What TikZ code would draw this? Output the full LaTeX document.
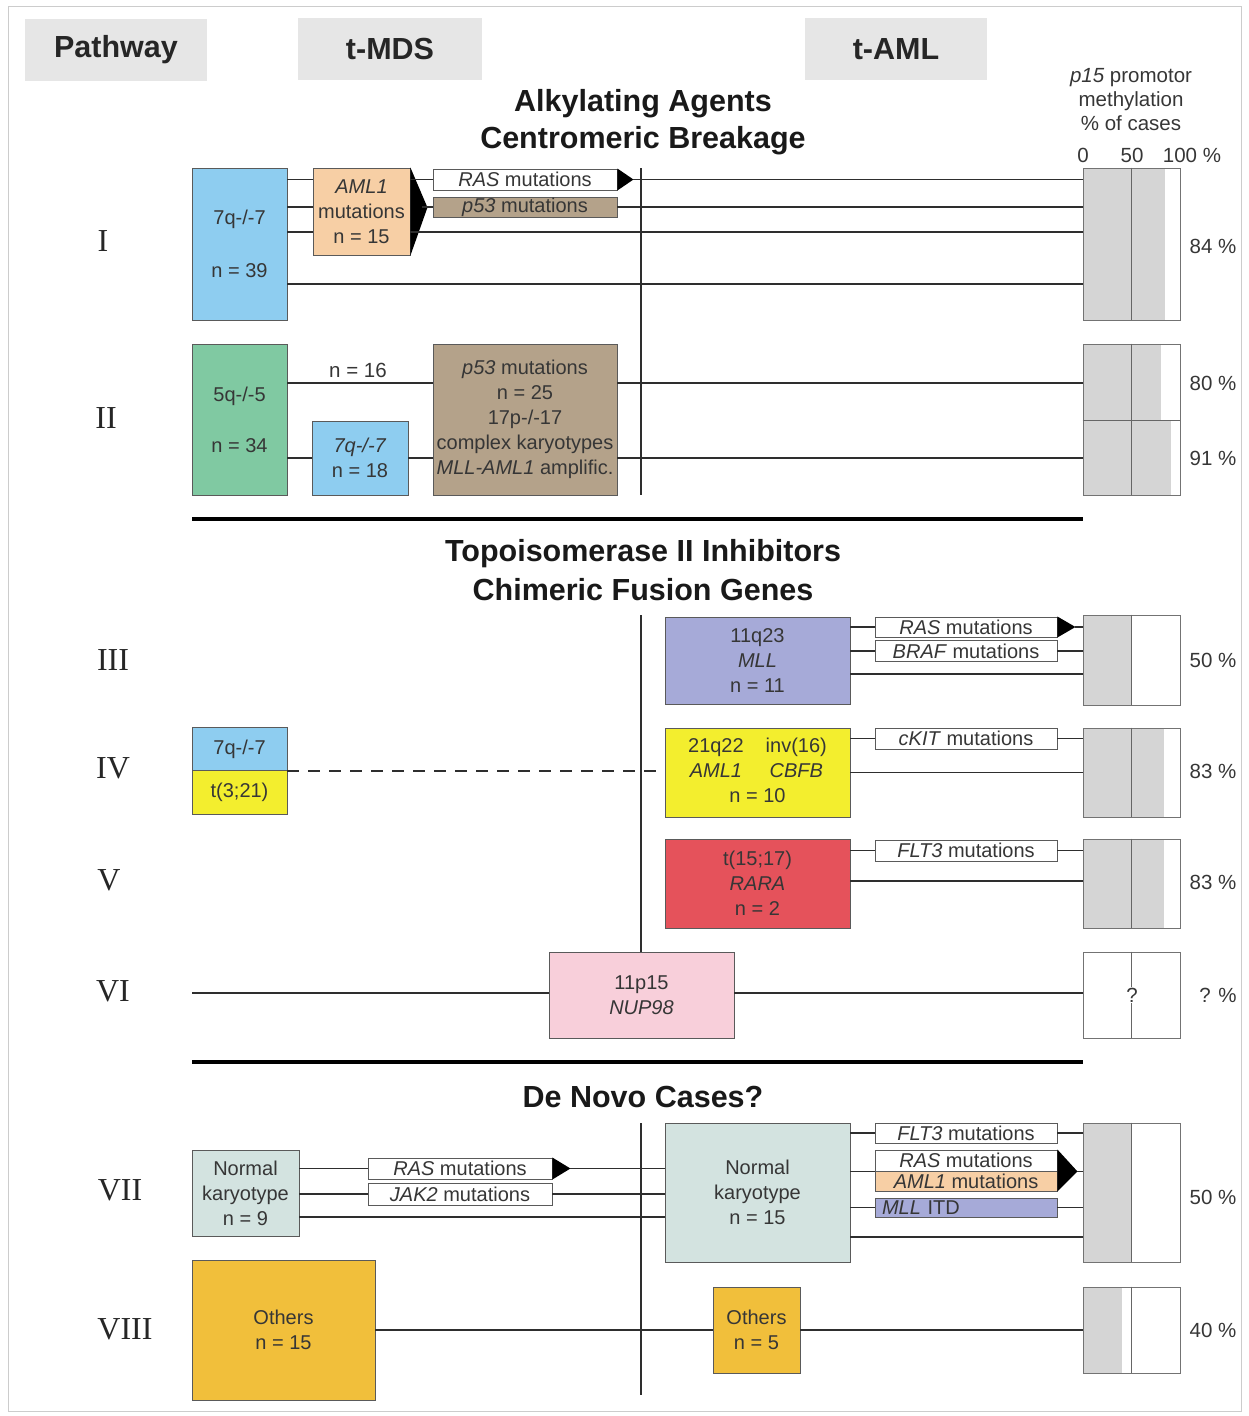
\documentclass[tikz,border=0pt]{standalone}
\usepackage{fontspec}
\setmainfont{Liberation Sans}
\newfontfamily\romfont{Liberation Serif}
\usetikzlibrary{calc}
\definecolor{txt}{HTML}{363636}
\definecolor{bdr}{HTML}{5A5A5A}
\definecolor{lnc}{HTML}{2E2E2E}
\definecolor{cblue}{HTML}{8ECDF0}
\definecolor{cpeach}{HTML}{F7CFA5}
\definecolor{cbrown}{HTML}{B4A28A}
\definecolor{cgreen}{HTML}{80C9A2}
\definecolor{clav}{HTML}{A6AAD8}
\definecolor{cyel}{HTML}{F3EE2E}
\definecolor{cred}{HTML}{E5525B}
\definecolor{cpink}{HTML}{F8CFDA}
\definecolor{cgrayteal}{HTML}{D3E3E0}
\definecolor{cgold}{HTML}{F1BF3B}
\definecolor{cbar}{HTML}{D5D5D5}
\definecolor{chdr}{HTML}{E6E6E6}
\begin{document}
\begin{tikzpicture}[x=1pt,y=-1pt,
  bx/.style={draw=bdr, line width=0.9pt, inner sep=0pt, align=center, text=txt, font=\fontsize{20}{25}\selectfont},
  mut/.style={bx, fill=white, minimum width=182pt},
  hdr/.style={fill=chdr, inner sep=0pt, minimum width=182pt, minimum height=62pt, font=\fontsize{30.5}{34}\selectfont\bfseries, text=black!85},
  ttl/.style={font=\fontsize{30.5}{34}\selectfont\bfseries, text=black!90},
  rom/.style={font=\romfont\fontsize{32}{36}\selectfont, text=black!85},
  pct/.style={font=\fontsize{20.5}{24}\selectfont, text=txt, align=center},
  bar/.style={draw=black!55, line width=0.9pt, minimum width=97pt, inner sep=0pt},
  midl/.style={draw=black!60, line width=0.9pt},
  ln/.style={draw=lnc, line width=1.8pt},
  sepl/.style={draw=black, line width=3.5pt},
  tipc/.style={fill=black}]
\useasboundingbox (0,0) rectangle (1248,1416);
\draw[black!20, line width=1pt] (8,6) rectangle (1241,1411);

% headers
\node[hdr] (hp) at (116,50) {Pathway};
\node[hdr, minimum width=184pt] (hm) at (390,49) {t-MDS};
\node[hdr] (ha) at (896,49) {t-AML};
\node[ttl] (t1) at (643,104) {Alkylating Agents};
\node[ttl] (t2) at (643,141) {Centromeric Breakage};
\node[ttl] (t3) at (643,554) {Topoisomerase II Inhibitors};
\node[ttl] (t4) at (643,590) {Chimeric Fusion Genes};
\node[ttl] (t5) at (643,1097) {De Novo Cases?};
\node[pct] (p15) at (1131,100) {\textit{p15} promotor\\methylation\\\% of cases};
\node[pct] (s0) at (1083,155) {0};
\node[pct] (s50) at (1132,155) {50};
\node[pct] (s100) at (1192,155) {100 \%};

% roman numerals
\node[rom] (rI) at (103,241) {I};
\node[rom] (rII) at (106,418) {II};
\node[rom] (rIII) at (113,660) {III};
\node[rom] (rIV) at (113,768) {IV};
\node[rom] (rV) at (109,880) {V};
\node[rom] (rVI) at (113,991) {VI};
\node[rom] (rVII) at (120,1190) {VII};
\node[rom] (rVIII) at (125,1329) {VIII};

% methylation bars
\fill[cbar] (1083,168) rectangle (1164.5,320);
\node[bar, minimum height=152pt] (barI) at (1131.5,244) {};
\draw[midl] (barI.north) -- (barI.south);
\fill[cbar] (1083,344) rectangle (1160.6,420);
\fill[cbar] (1083,420) rectangle (1171.3,495);
\node[bar, minimum height=151pt] (barII) at (1131.5,419.5) {};
\draw[midl] (barII.north) -- (barII.south);
\draw[midl] (barII.west |- 0,420) -- (barII.east |- 0,420);
\fill[cbar] (1083,615) rectangle (1131.5,705);
\node[bar, minimum height=90pt] (barIII) at (1131.5,660) {};
\draw[midl] (barIII.north) -- (barIII.south);
\fill[cbar] (1083,728) rectangle (1163.5,817);
\node[bar, minimum height=89pt] (barIV) at (1131.5,772.5) {};
\draw[midl] (barIV.north) -- (barIV.south);
\fill[cbar] (1083,839) rectangle (1163.5,928);
\node[bar, minimum height=89pt] (barV) at (1131.5,883.5) {};
\draw[midl] (barV.north) -- (barV.south);
\node[bar, minimum height=86pt] (barVI) at (1131.5,995) {};
\draw[midl] (barVI.north) -- (barVI.south);
\node[pct, fill=white, inner sep=1pt] (qVI) at (1132,995) {?};
\fill[cbar] (1083,1123) rectangle (1131.5,1262);
\node[bar, minimum height=139pt] (barVII) at (1131.5,1192.5) {};
\draw[midl] (barVII.north) -- (barVII.south);
\fill[cbar] (1083,1287) rectangle (1121.8,1373);
\node[bar, minimum height=86pt] (barVIII) at (1131.5,1330) {};
\draw[midl] (barVIII.north) -- (barVIII.south);

\node[pct] (pI) at (1213,246) {84 \%};
\node[pct] (pIIa) at (1213,383) {80 \%};
\node[pct] (pIIb) at (1213,458) {91 \%};
\node[pct] (pIII) at (1213,660) {50 \%};
\node[pct] (pIV) at (1213,771) {83 \%};
\node[pct] (pV) at (1213,882) {83 \%};
\node[pct] (pVI) at (1218,995) {? \%};
\node[pct] (pVII) at (1213,1197) {50 \%};
\node[pct] (pVIII) at (1213,1330) {40 \%};

% vertical centre lines and separators
\draw[ln] (641,168) -- (641,495);
\draw[sepl] (192,519) -- (1083,519);
\draw[sepl] (192,1062) -- (1083,1062);
\draw[ln] (641,1123) -- (641,1395);

% ---------- Pathway I
\node[bx, fill=cblue, minimum width=95pt, minimum height=152pt] (blueI) at (239.5,244) {7q-/-7\\[28pt]n = 39};
\node[bx, fill=cpeach, minimum width=97pt, minimum height=87pt] (aml1) at (361.5,211.5) {\textit{AML1}\\mutations\\n = 15};
\node[mut, minimum width=184pt, minimum height=21pt] (ras1) at (525,179.5) {\textit{RAS} mutations};
\node[bx, fill=cbrown, minimum width=184pt, minimum height=20pt] (p53a) at (525,207) {\textit{p53} mutations};
\fill[tipc] (aml1.north east) -- ($(aml1.east)+(17,-4)$) -- (aml1.south east) -- cycle;
\coordinate (tipI) at ($(ras1.east)+(16,0)$);
\fill[tipc] (ras1.north east) -- (tipI) -- (ras1.south east) -- cycle;
\coordinate (yI3) at (0,232);
\coordinate (yI4) at (0,284);
\draw[ln] (blueI.east |- ras1) -- (aml1.west |- ras1);
\draw[ln] (aml1.east |- ras1) -- (ras1.west);
\draw[ln] (tipI) -- (barI.west |- tipI);
\draw[ln] (blueI.east |- p53a) -- (aml1.west |- p53a);
\draw[ln] ($(aml1.east |- p53a)+(12,0)$) -- (p53a.west);
\draw[ln] (p53a.east) -- (barI.west |- p53a);
\draw[ln] (blueI.east |- yI3) -- (aml1.west |- yI3);
\draw[ln] (aml1.east |- yI3) -- (barI.west |- yI3);
\draw[ln] (blueI.east |- yI4) -- (barI.west |- yI4);

% ---------- Pathway II
\node[bx, fill=cgreen, minimum width=95pt, minimum height=151pt] (greenII) at (239.5,419.5) {5q-/-5\\[26pt]n = 34};
\node[bx, fill=cblue, minimum width=96pt, minimum height=74pt] (blueII) at (360,458) {\textit{7q-/-7}\\n = 18};
\node[bx, fill=cbrown, minimum width=184pt, minimum height=151pt] (brownII) at (525,419.5) {\textit{p53} mutations\\n = 25\\17p-/-17\\complex karyotypes\\\textit{MLL-AML1} amplific.};
\node[pct] (n16) at (358,370) {n = 16};
\coordinate (yII1) at (0,383);
\draw[ln] (greenII.east |- yII1) -- (brownII.west |- yII1);
\draw[ln] (brownII.east |- yII1) -- (barII.west |- yII1);
\draw[ln] (greenII.east |- blueII) -- (blueII.west);
\draw[ln] (blueII.east) -- (brownII.west |- blueII);
\draw[ln] (brownII.east |- blueII) -- (barII.west |- blueII);

% ---------- Pathway III
\node[bx, fill=clav, minimum width=185pt, minimum height=87pt] (mllIII) at (757.5,660.5) {11q23\\\textit{MLL}\\n = 11};
\node[mut, minimum height=20pt] (rasIII) at (966,627) {\textit{RAS} mutations};
\node[mut, minimum height=21pt] (braf) at (966,651) {\textit{BRAF} mutations};
\coordinate (tipIII) at ($(rasIII.east)+(18,0)$);
\fill[tipc] (rasIII.north east) -- (tipIII) -- (rasIII.south east) -- cycle;
\coordinate (yIII3) at (0,674);
\draw[ln] (mllIII.east |- rasIII) -- (rasIII.west);
\draw[ln] (tipIII) -- (barIII.west |- tipIII);
\draw[ln] (mllIII.east |- braf) -- (braf.west);
\draw[ln] (braf.east) -- (barIII.west |- braf);
\draw[ln] (mllIII.east |- yIII3) -- (barIII.west |- yIII3);

% ---------- Pathway IV
\node[bx, fill=cblue, minimum width=95pt, minimum height=43pt] (ivtop) at (239.5,749) {7q-/-7};
\node[bx, fill=cyel, minimum width=95pt, minimum height=44pt] (ivbot) at (239.5,792.5) {t(3;21)};
\node[bx, fill=cyel, minimum width=185pt, minimum height=89pt] (cbf) at (757.5,772.5) {\begin{tabular}{@{}c@{\hspace{22pt}}c@{}}21q22 & inv(16)\\ \textit{AML1} & \textit{CBFB}\\ \multicolumn{2}{c}{n = 10}\end{tabular}};
\node[mut, minimum height=21pt] (ckit) at (966,738.5) {\textit{cKIT} mutations};
\draw[ln, dash pattern=on 12pt off 9pt] (ivtop.south east) -- (cbf.west |- ivtop.south);
\draw[ln] (cbf.east |- ckit) -- (ckit.west);
\draw[ln] (ckit.east) -- (barIV.west |- ckit);
\draw[ln] (cbf.east) -- (barIV.west |- cbf);

% ---------- Pathway V
\node[bx, fill=cred, minimum width=185pt, minimum height=89pt] (rara) at (757.5,883.5) {t(15;17)\\\textit{RARA}\\n = 2};
\node[mut, minimum height=21pt] (flt3V) at (966,850.5) {\textit{FLT3} mutations};
\coordinate (yV2) at (0,881);
\draw[ln] (rara.east |- flt3V) -- (flt3V.west);
\draw[ln] (flt3V.east) -- (barV.west |- flt3V);
\draw[ln] (rara.east |- yV2) -- (barV.west |- yV2);

% ---------- Pathway VI
\node[bx, fill=cpink, minimum width=185pt, minimum height=86pt] (nup) at (641.5,995) {11p15\\\textit{NUP98}};
\coordinate (vtop2) at (641,615);
\draw[ln] (vtop2) -- (vtop2 |- nup.north);
\coordinate (vi0) at (192,993);
\draw[ln] (vi0) -- (nup.west |- vi0);
\draw[ln] (nup.east |- vi0) -- (barVI.west |- vi0);

% ---------- Pathway VII
\node[bx, fill=cgrayteal, minimum width=107pt, minimum height=86pt] (nk1) at (245.5,1193) {Normal\\karyotype\\n = 9};
\node[bx, fill=cgrayteal, minimum width=185pt, minimum height=139pt] (nk2) at (757.5,1192.5) {Normal\\karyotype\\n = 15};
\node[mut, minimum width=184pt, minimum height=21pt] (rasVII) at (460,1168.5) {\textit{RAS} mutations};
\node[mut, minimum width=184pt, minimum height=22pt] (jak2) at (460,1194) {\textit{JAK2} mutations};
\coordinate (tipVII) at ($(rasVII.east)+(18,0)$);
\fill[tipc] (rasVII.north east) -- (tipVII) -- (rasVII.south east) -- cycle;
\coordinate (yVII3) at (0,1217);
\draw[ln] (nk1.east |- rasVII) -- (rasVII.west);
\draw[ln] (tipVII) -- (nk2.west |- tipVII);
\draw[ln] (nk1.east |- jak2) -- (jak2.west);
\draw[ln] (jak2.east) -- (nk2.west |- jak2);
\draw[ln] (nk1.east |- yVII3) -- (nk2.west |- yVII3);

\node[mut, minimum height=20pt] (flt3VII) at (966,1133) {\textit{FLT3} mutations};
\node[mut, minimum height=21pt] (rasVII2) at (966,1160.5) {\textit{RAS} mutations};
\node[bx, fill=cpeach, minimum width=182pt, minimum height=20pt] (aml1VII) at (966,1181) {\textit{AML1} mutations};
\node[bx, fill=clav, minimum height=19pt, text width=168pt, inner xsep=7pt, align=left] (mllitd) at (966,1207.5) {\textit{MLL} ITD};
\coordinate (tipVII2) at ($(rasVII2.south east)+(20,0)$);
\fill[tipc] (rasVII2.north east) -- (tipVII2) -- (aml1VII.south east) -- cycle;
\coordinate (yVII4) at (0,1237);
\draw[ln] (nk2.east |- flt3VII) -- (flt3VII.west);
\draw[ln] (flt3VII.east) -- (barVII.west |- flt3VII);
\draw[ln] (nk2.east |- rasVII2.south) -- (rasVII2.south west);
\draw[ln] (tipVII2) -- (barVII.west |- tipVII2);
\draw[ln] (nk2.east |- mllitd) -- (mllitd.west);
\draw[ln] (mllitd.east) -- (barVII.west |- mllitd);
\draw[ln] (nk2.east |- yVII4) -- (barVII.west |- yVII4);

% ---------- Pathway VIII
\node[bx, fill=cgold, minimum width=183pt, minimum height=140pt] (oth1) at (283.5,1330) {Others\\n = 15};
\node[bx, fill=cgold, minimum width=87pt, minimum height=86pt] (oth2) at (756.5,1330) {Others\\n = 5};
\draw[ln] (oth1.east) -- (oth2.west);
\draw[ln] (oth2.east) -- (barVIII.west |- oth2);
\end{tikzpicture}
\end{document}
